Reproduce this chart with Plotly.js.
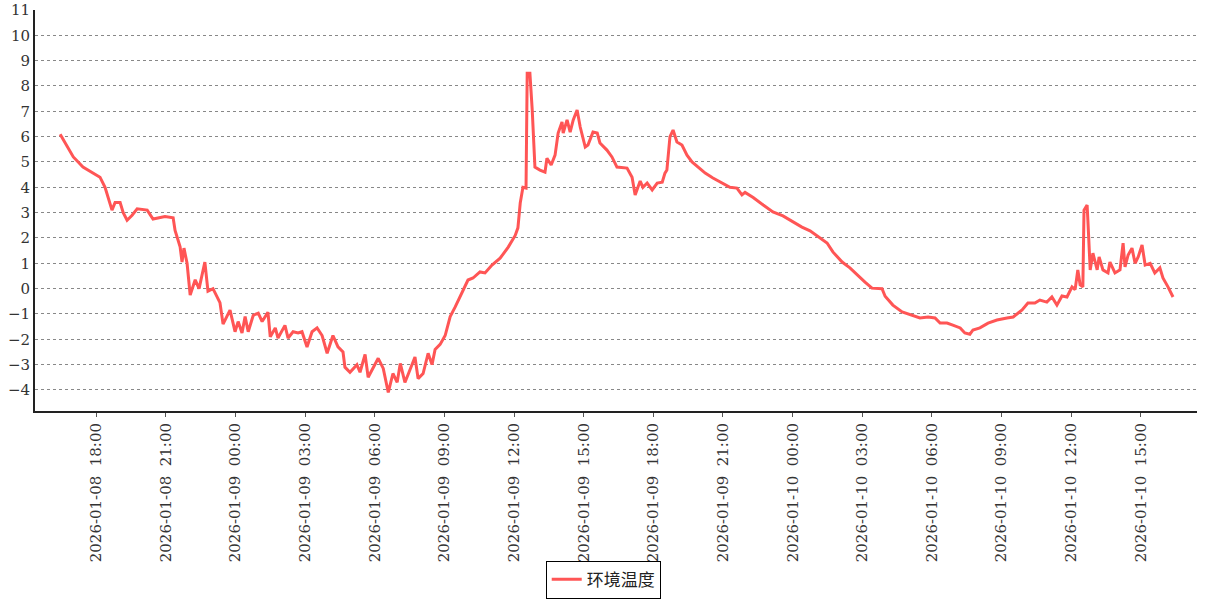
<!DOCTYPE html>
<html>
<head>
<meta charset="utf-8">
<script src="https://cdn.plot.ly/plotly-3.0.1.min.js"></script>
<style>html,body{margin:0;padding:0;background:#fff;}#chart{width:1207px;height:600px;}</style>
</head>
<body>
<div id="chart"></div>
<script>
const seriesName = "环境温度";
const times = [
"2026-01-08 16:27","2026-01-08 17:01","2026-01-08 17:26","2026-01-08 17:52","2026-01-08 18:10","2026-01-08 18:23",
"2026-01-08 18:36","2026-01-08 18:41","2026-01-08 18:49","2026-01-08 19:02","2026-01-08 19:10","2026-01-08 19:20",
"2026-01-08 19:33","2026-01-08 19:46","2026-01-08 20:12","2026-01-08 20:27","2026-01-08 20:58","2026-01-08 21:19",
"2026-01-08 21:24","2026-01-08 21:37","2026-01-08 21:42","2026-01-08 21:47","2026-01-08 21:55","2026-01-08 22:03",
"2026-01-08 22:16","2026-01-08 22:26","2026-01-08 22:41","2026-01-08 22:49","2026-01-08 23:02","2026-01-08 23:20",
"2026-01-08 23:28","2026-01-08 23:46","2026-01-08 23:59",
"2026-01-09 00:07","2026-01-09 00:17","2026-01-09 00:25","2026-01-09 00:33","2026-01-09 00:46","2026-01-09 00:59",
"2026-01-09 01:09","2026-01-09 01:24","2026-01-09 01:30","2026-01-09 01:43","2026-01-09 01:50","2026-01-09 02:08",
"2026-01-09 02:16","2026-01-09 02:29","2026-01-09 02:42","2026-01-09 02:52","2026-01-09 03:05","2026-01-09 03:18",
"2026-01-09 03:31","2026-01-09 03:44","2026-01-09 03:57","2026-01-09 04:12","2026-01-09 04:25","2026-01-09 04:38",
"2026-01-09 04:43","2026-01-09 04:56","2026-01-09 05:14","2026-01-09 05:22","2026-01-09 05:35","2026-01-09 05:43",
"2026-01-09 05:56","2026-01-09 06:09","2026-01-09 06:22","2026-01-09 06:35","2026-01-09 06:47","2026-01-09 06:58",
"2026-01-09 07:06","2026-01-09 07:18","2026-01-09 07:26","2026-01-09 07:44","2026-01-09 07:52","2026-01-09 08:05",
"2026-01-09 08:18","2026-01-09 08:28","2026-01-09 08:36","2026-01-09 08:49","2026-01-09 09:02","2026-01-09 09:15",
"2026-01-09 09:28","2026-01-09 09:46","2026-01-09 10:01","2026-01-09 10:14","2026-01-09 10:32","2026-01-09 10:45",
"2026-01-09 11:03","2026-01-09 11:24","2026-01-09 11:45","2026-01-09 12:03","2026-01-09 12:10","2026-01-09 12:16",
"2026-01-09 12:23","2026-01-09 12:31","2026-01-09 12:34","2026-01-09 12:41","2026-01-09 12:47","2026-01-09 12:54",
"2026-01-09 13:07","2026-01-09 13:20","2026-01-09 13:25","2026-01-09 13:36","2026-01-09 13:46","2026-01-09 13:54",
"2026-01-09 14:04","2026-01-09 14:07","2026-01-09 14:17","2026-01-09 14:25","2026-01-09 14:33","2026-01-09 14:43",
"2026-01-09 14:51","2026-01-09 15:04","2026-01-09 15:11","2026-01-09 15:24","2026-01-09 15:35","2026-01-09 15:42",
"2026-01-09 16:00","2026-01-09 16:13","2026-01-09 16:26","2026-01-09 16:52","2026-01-09 17:05","2026-01-09 17:13",
"2026-01-09 17:26","2026-01-09 17:33","2026-01-09 17:44","2026-01-09 17:57","2026-01-09 18:10","2026-01-09 18:23",
"2026-01-09 18:30","2026-01-09 18:35","2026-01-09 18:43","2026-01-09 18:51","2026-01-09 19:01","2026-01-09 19:14",
"2026-01-09 19:27","2026-01-09 19:40","2026-01-09 19:56","2026-01-09 20:14","2026-01-09 20:34","2026-01-09 20:58",
"2026-01-09 21:18","2026-01-09 21:36","2026-01-09 21:49","2026-01-09 21:57","2026-01-09 22:18","2026-01-09 22:44",
"2026-01-09 23:09","2026-01-09 23:35",
"2026-01-10 00:01","2026-01-10 00:24","2026-01-10 00:45","2026-01-10 01:06","2026-01-10 01:29","2026-01-10 01:44",
"2026-01-10 02:08","2026-01-10 02:28","2026-01-10 02:49","2026-01-10 03:07","2026-01-10 03:25","2026-01-10 03:51",
"2026-01-10 03:59","2026-01-10 04:19","2026-01-10 04:43","2026-01-10 05:09","2026-01-10 05:29","2026-01-10 05:50",
"2026-01-10 06:08","2026-01-10 06:21","2026-01-10 06:39","2026-01-10 06:54","2026-01-10 07:13","2026-01-10 07:25",
"2026-01-10 07:38","2026-01-10 07:46","2026-01-10 08:04","2026-01-10 08:25","2026-01-10 08:48","2026-01-10 09:14",
"2026-01-10 09:30","2026-01-10 09:53","2026-01-10 10:08","2026-01-10 10:26","2026-01-10 10:39","2026-01-10 10:57",
"2026-01-10 11:10","2026-01-10 11:23","2026-01-10 11:36","2026-01-10 11:49","2026-01-10 12:02","2026-01-10 12:10",
"2026-01-10 12:17","2026-01-10 12:23","2026-01-10 12:30","2026-01-10 12:33","2026-01-10 12:41","2026-01-10 12:43",
"2026-01-10 12:49","2026-01-10 12:56","2026-01-10 13:07","2026-01-10 13:12","2026-01-10 13:22","2026-01-10 13:35",
"2026-01-10 13:40","2026-01-10 13:53","2026-01-10 14:06","2026-01-10 14:14","2026-01-10 14:19","2026-01-10 14:27",
"2026-01-10 14:37","2026-01-10 14:45","2026-01-10 14:53","2026-01-10 15:03","2026-01-10 15:11","2026-01-10 15:24",
"2026-01-10 15:36","2026-01-10 15:49","2026-01-10 15:57","2026-01-10 16:10","2026-01-10 16:23"
];
const temps = [
6.1,5.2,4.8,4.57,4.4,4.0,
3.4,3.1,3.4,3.4,3.0,2.7,
2.9,3.15,3.1,2.75,2.85,2.8,
2.3,1.65,1.05,1.6,1.0,-0.25,
0.35,0.0,1.05,-0.1,0.0,-0.55,
-1.4,-0.85,-1.7,
-1.3,-1.75,-1.1,-1.7,-1.05,-0.97,
-1.3,-0.93,-1.9,-1.55,-1.95,-1.45,
-1.95,-1.7,-1.75,-1.7,-2.3,-1.7,
-1.55,-1.85,-2.55,-1.85,-2.3,-2.5,
-3.1,-3.3,-3.0,-3.3,-2.6,-3.5,
-3.1,-2.75,-3.15,-4.1,-3.35,-3.7,
-2.95,-3.7,-3.4,-2.7,-3.55,-3.35,
-2.55,-3.0,-2.4,-2.2,-1.85,-1.1,
-0.72,-0.17,0.34,0.42,0.66,0.62,
0.93,1.2,1.64,2.1,2.4,3.38,
4.0,3.97,8.5,8.5,7.05,4.8,
4.68,4.6,5.15,4.88,5.27,6.14,
6.58,6.14,6.66,6.18,6.66,7.05,
6.38,5.59,5.67,6.18,6.14,5.75,
5.47,5.2,4.8,4.76,4.4,3.7,
4.25,4.0,4.17,3.9,4.17,4.2,
4.56,4.68,6.0,6.26,5.79,5.67,
5.27,5.0,4.8,4.56,4.37,4.17,
4.0,3.97,3.7,3.8,3.6,3.3,
3.03,2.87,
2.63,2.43,2.28,2.04,1.8,1.45,
1.05,0.82,0.5,0.26,0.02,0.0,
-0.3,-0.65,-0.92,-1.04,-1.16,-1.12,
-1.16,-1.36,-1.36,-1.44,-1.55,-1.75,
-1.8,-1.63,-1.55,-1.36,-1.24,-1.16,
-1.12,-0.84,-0.57,-0.57,-0.45,-0.53,
-0.33,-0.65,-0.29,-0.33,0.07,-0.04,
0.74,0.15,0.07,3.1,3.3,2.7,
0.74,1.4,0.74,1.25,0.74,0.62,
1.05,0.62,0.74,1.8,0.86,1.33,
1.6,1.0,1.25,1.72,0.93,1.0,
0.62,0.82,0.42,0.07,-0.33
];
const xRange = ["2026-01-08 15:22", "2026-01-10 17:25"];
const yRange = [-4.83, 11];
const yTicks = [-4,-3,-2,-1,0,1,2,3,4,5,6,7,8,9,10,11];

const serif = "DejaVu Serif, Liberation Serif, serif";
const trace = {
  x: times, y: temps, type: "scatter", mode: "lines", name: seriesName,
  line: {color: "#ff5555", width: 3}
};
const layout = {
  width: 1207, height: 600,
  margin: {l: 35, r: 10, t: 10, b: 189, autoexpand: false},
  paper_bgcolor: "#ffffff", plot_bgcolor: "#ffffff",
  font: {family: serif, size: 15, color: "#333333"},
  showlegend: true,
  legend: {
    orientation: "h", x: 0.489, xanchor: "center", y: -0.468, yanchor: "bottom",
    bordercolor: "#000000", borderwidth: 1, bgcolor: "#ffffff",
    font: {family: "Noto Sans CJK SC, serif", size: 17, color: "#222222"},
    itemwidth: 30
  },
  xaxis: {
    type: "date", range: xRange,
    tick0: "2026-01-08 18:00", dtick: 3 * 3600000,
    tickformat: "%Y-%m-%d\u00a0\u00a0%H:%M", tickangle: -90,
    ticks: "outside", ticklen: 4, tickcolor: "#555555", tickwidth: 1,
    showgrid: false, zeroline: false,
    showline: true, linecolor: "#222222", linewidth: 2,
    tickfont: {family: serif, size: 15, color: "#333333"}
  },
  yaxis: {
    range: yRange, tickvals: yTicks, ticktext: yTicks.map(v => v < 0 ? "\u2212" + Math.abs(v) : String(v)),
    ticks: "", showgrid: true, gridcolor: "#888888", griddash: "dot", gridwidth: 1,
    zeroline: false, showline: true, linecolor: "#222222", linewidth: 2,
    tickfont: {family: serif, size: 15, color: "#333333"}
  }
};
Plotly.newPlot("chart", [trace], layout, {displayModeBar: false, staticPlot: true});
</script>
</body>
</html>
